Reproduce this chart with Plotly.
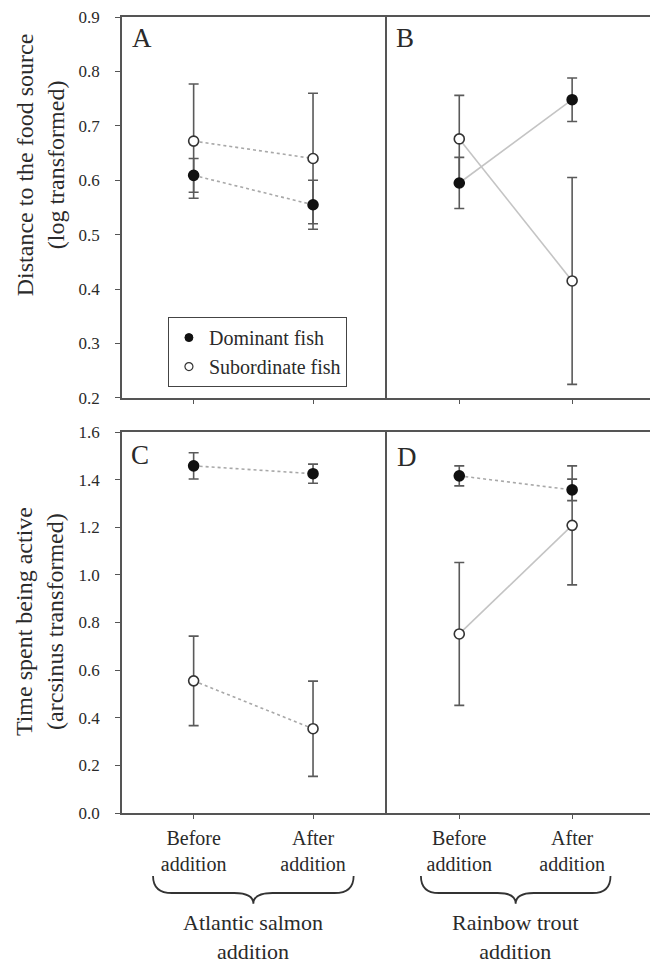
import plotly.graph_objects as go

# ---------------- data ----------------
x_pos = [0, 1]
tick_labels = ["Before<br>addition", "After<br>addition"]
group_labels = ["Atlantic salmon<br>addition", "Rainbow trout<br>addition"]
panel_letters = ["A", "B", "C", "D"]
series_names = ["Dominant fish", "Subordinate fish"]

# Distance to the food source (log transformed)
dist_salmon_dom = [0.609, 0.555]
dist_salmon_dom_err = [0.031, 0.045]
dist_salmon_sub = [0.672, 0.640]
dist_salmon_sub_err = [0.105, 0.120]
dist_trout_dom = [0.595, 0.748]
dist_trout_dom_err = [0.047, 0.040]
dist_trout_sub = [0.676, 0.415]
dist_trout_sub_err = [0.080, 0.190]

# Time spent being active (arcsinus transformed)
act_salmon_dom = [1.458, 1.425]
act_salmon_dom_err = [0.055, 0.040]
act_salmon_sub = [0.555, 0.354]
act_salmon_sub_err = [0.188, 0.200]
act_trout_dom = [1.416, 1.357]
act_trout_dom_err = [0.042, 0.045]
act_trout_sub = [0.752, 1.208]
act_trout_sub_err = [0.300, 0.250]

# ---------------- styles ----------------
FONT = "Liberation Serif, DejaVu Serif, serif"
TXT = "#2a2a2a"
AX = "#555555"
ERR = "#5a5a5a"
DOM_FILL = "#111111"
LINE_DOT = "#a8a8a8"
LINE_SOLID = "#c4c4c4"

fig = go.Figure()

panels = [
    ("x", "y", dist_salmon_dom, dist_salmon_dom_err, dist_salmon_sub, dist_salmon_sub_err, "dot", "dot"),
    ("x2", "y2", dist_trout_dom, dist_trout_dom_err, dist_trout_sub, dist_trout_sub_err, "solid", "solid"),
    ("x3", "y3", act_salmon_dom, act_salmon_dom_err, act_salmon_sub, act_salmon_sub_err, "dot", "dot"),
    ("x4", "y4", act_trout_dom, act_trout_dom_err, act_trout_sub, act_trout_sub_err, "dot", "solid"),
]

for xa, ya, dom, dom_e, sub, sub_e, dash_dom, dash_sub in panels:
    for vals, errs, is_dom, dash in ((sub, sub_e, False, dash_sub), (dom, dom_e, True, dash_dom)):
        lc = LINE_DOT if dash == "dot" else LINE_SOLID
        fig.add_trace(go.Scatter(
            x=x_pos, y=vals, xaxis=xa, yaxis=ya, mode="lines+markers",
            line=dict(color=lc, width=1.6, dash=dash),
            marker=dict(size=10, symbol="circle",
                        color=DOM_FILL if is_dom else "white",
                        line=dict(color="#333333" if not is_dom else DOM_FILL, width=1.6)),
            error_y=dict(type="data", array=errs, visible=True, color=ERR, thickness=1.6, width=5),
            showlegend=False, hoverinfo="skip",
        ))

# legend-only traces
fig.add_trace(go.Scatter(x=[None], y=[None], mode="markers", name=series_names[0],
                         marker=dict(size=8, color=DOM_FILL, line=dict(color=DOM_FILL, width=1))))
fig.add_trace(go.Scatter(x=[None], y=[None], mode="markers", name=series_names[1],
                         marker=dict(size=8, color="white", line=dict(color="#333333", width=1.2))))

# ---------------- axes ----------------
XL = [0, 0.502]
XR = [0.502, 1]
YT = [0.5214, 1]
YB = [0, 0.4786]
RANGE_L = [-0.6, 1.62]
RANGE_R = [-0.64, 1.69]

def xaxis(domain, rng, anchor, labels):
    return dict(domain=domain, range=rng, anchor=anchor, showline=True, linecolor=AX, linewidth=1.6,
                mirror=True, ticks="outside", ticklen=4, tickcolor=AX, tickwidth=1.2,
                tickvals=x_pos, ticktext=tick_labels, showticklabels=labels,
                showgrid=False, zeroline=False, ticklabelstandoff=2,
                tickfont=dict(family=FONT, size=20, color=TXT))

def yaxis(domain, rng, dtick, anchor, labels):
    return dict(domain=domain, range=rng, anchor=anchor, showline=True, linecolor=AX, linewidth=1.6,
                mirror=False, ticks="outside" if labels else "", ticklen=5, tickcolor=AX, tickwidth=1.2,
                dtick=dtick, tickformat=".1f", showticklabels=labels, showgrid=False, zeroline=False,
                ticklabelstandoff=12, tickfont=dict(family=FONT, size=17, color=TXT))

fig.update_layout(
    xaxis=xaxis(XL, RANGE_L, "y", False),
    xaxis2=xaxis(XR, RANGE_R, "y2", False),
    xaxis3=xaxis(XL, RANGE_L, "y3", True),
    xaxis4=xaxis(XR, RANGE_R, "y4", True),
    yaxis=yaxis(YT, [0.2, 0.9], 0.1, "x", True),
    yaxis2=yaxis(YT, [0.2, 0.9], 0.1, "x2", False),
    yaxis3=yaxis(YB, [0.0, 1.6], 0.2, "x3", True),
    yaxis4=yaxis(YB, [0.0, 1.6], 0.2, "x4", False),
)

# ---------------- annotations ----------------
ann = []
letter_pos = [(0.037, 0.974), (0.536, 0.974), (0.034, 0.450), (0.540, 0.447)]
for letter, (px, py) in zip(panel_letters, letter_pos):
    ann.append(dict(text=letter, x=px, y=py, xref="paper", yref="paper", showarrow=False,
                    xanchor="center", yanchor="middle", font=dict(family=FONT, size=27, color=TXT)))

ann.append(dict(text="Distance to the food source<br>(log transformed)", x=-0.155, y=0.814,
                xref="paper", yref="paper", textangle=-90, showarrow=False,
                xanchor="center", yanchor="middle", font=dict(family=FONT, size=24, color=TXT)))
ann.append(dict(text="Time spent being active<br>(arcsinus transformed)", x=-0.155, y=0.24,
                xref="paper", yref="paper", textangle=-90, showarrow=False,
                xanchor="center", yanchor="middle", font=dict(family=FONT, size=24, color=TXT)))

for xr, lab in (("x3", group_labels[0]), ("x4", group_labels[1])):
    ann.append(dict(text=lab, x=0.5, y=-0.156, xref=xr, yref="paper", showarrow=False,
                    xanchor="center", yanchor="middle", font=dict(family=FONT, size=22, color=TXT)))

# curly braces under each group
shapes = []
yt, ym, yb = -0.079, -0.1005, -0.114
for xr in ("x3", "x4"):
    x0, x1, xc, d = -0.34, 1.34, 0.5, 0.16
    path = (f"M {x0},{yt} Q {x0},{ym} {x0+d},{ym} L {xc-d},{ym} Q {xc},{ym} {xc},{yb} "
            f"Q {xc},{ym} {xc+d},{ym} L {x1-d},{ym} Q {x1},{ym} {x1},{yt}")
    shapes.append(dict(type="path", path=path, xref=xr, yref="paper",
                       line=dict(color="#333333", width=1.8)))

fig.update_layout(
    width=651, height=965,
    margin=dict(l=122, r=1, t=17, b=152),
    paper_bgcolor="white", plot_bgcolor="white",
    font=dict(family=FONT, color=TXT),
    annotations=ann, shapes=shapes,
    showlegend=True,
    legend=dict(x=0.087, y=0.623, xanchor="left", yanchor="top", bgcolor="white",
                bordercolor="#444444", borderwidth=1, itemwidth=30, tracegroupgap=0,
                font=dict(family=FONT, size=20, color=TXT)),
)

fig.write_html("out.html", config={"displayModeBar": False},
               post_script="document.body.style.margin='0';document.body.style.overflow='hidden';")
